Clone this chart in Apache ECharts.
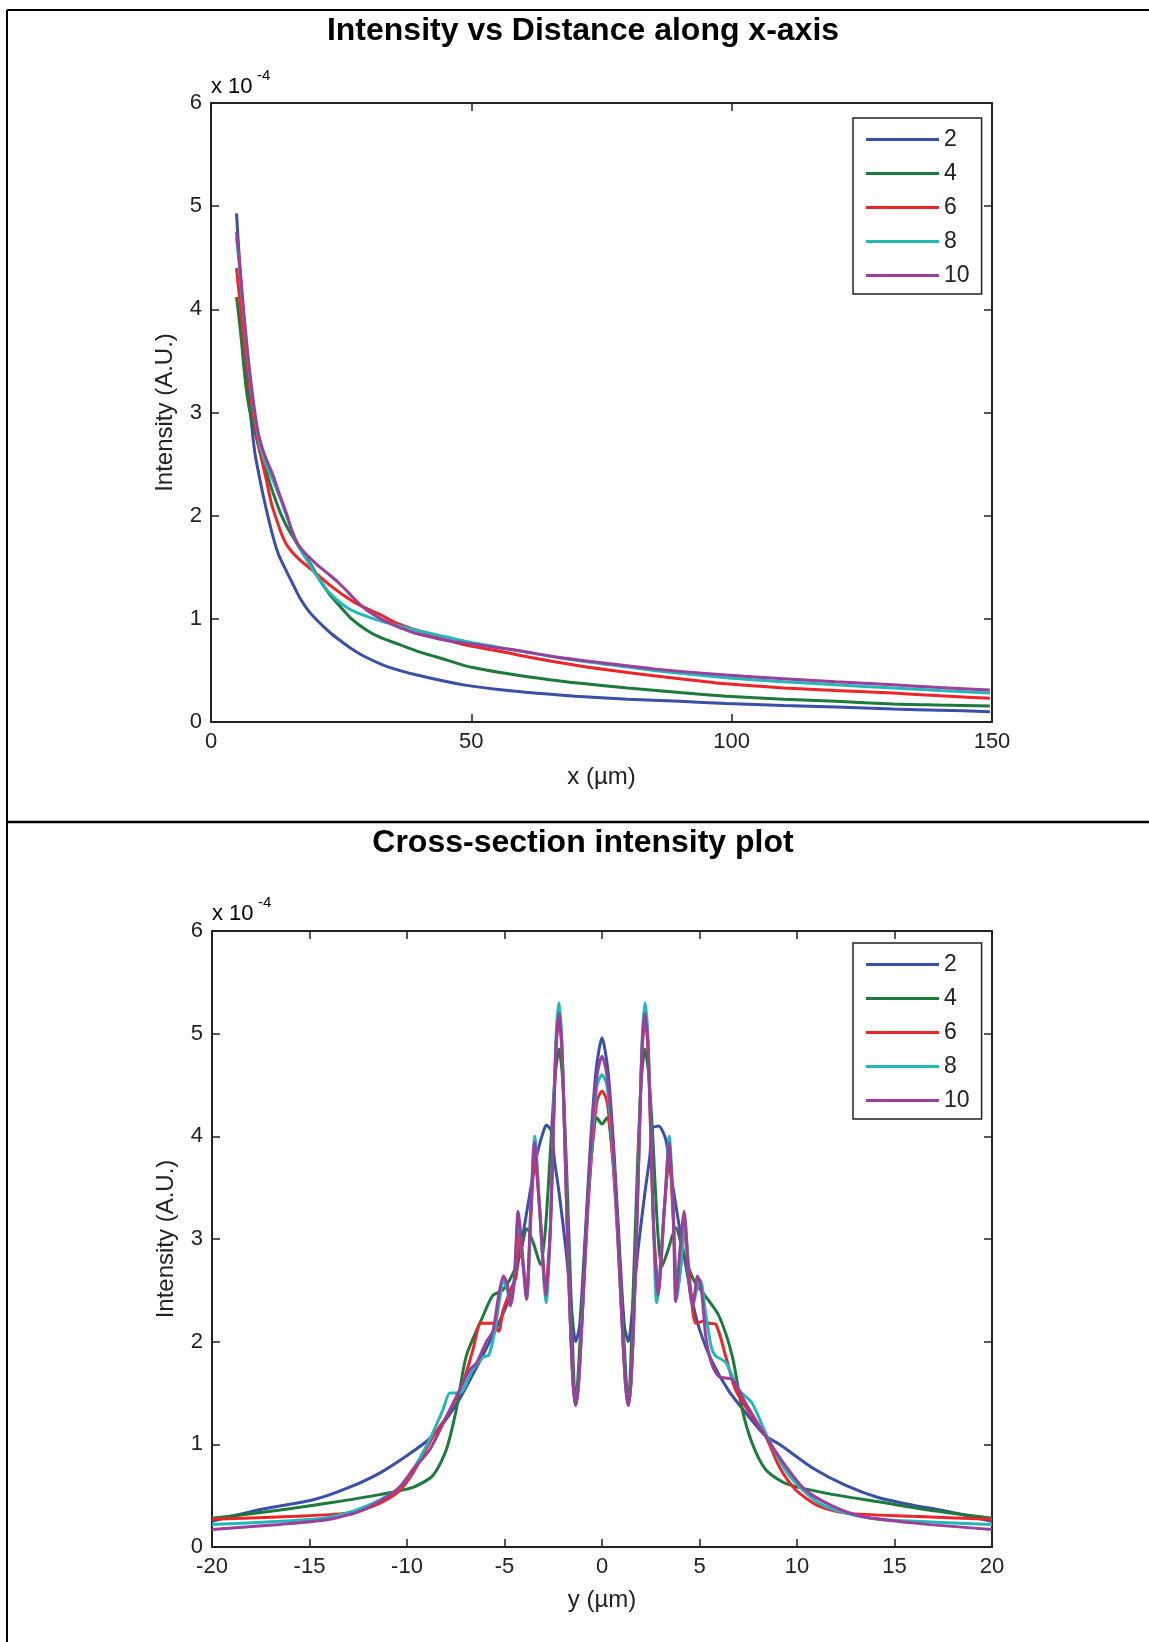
<!DOCTYPE html>
<html>
<head>
<meta charset="utf-8">
<script src="https://cdn.jsdelivr.net/npm/echarts@6/dist/echarts.min.js"></script>
<style>
  html, body { margin: 0; padding: 0; background: #fff; }
  #chart { width: 1149px; height: 1642px; }
</style>
</head>
<body>
<div id="chart"></div>
<script>
// ---------- DATA (intensity in units of 1e-4) ----------
const seriesNames = ['2', '4', '6', '8', '10'];
const seriesColors = ['#3a4fa8', '#1c7a3c', '#ee2428', '#22b8b8', '#9b3e9c'];

const titleTop = 'Intensity vs Distance along x-axis';
const titleBottom = 'Cross-section intensity plot';
const xNameTop = 'x (µm)';
const xNameBottom = 'y (µm)';
const yName = 'Intensity (A.U.)';

const xTicksTop = { min: 0, max: 150, interval: 50 };
const xTicksBottom = { min: -20, max: 20, interval: 5 };
const yTicks = { min: 0, max: 6, interval: 1 };

// Top plot: intensity vs x (µm)
const top2 = [[4.9,4.93],[5.3,4.6],[5.8,4.2],[6.3,3.8],[6.8,3.45],[7.3,3.15],[7.8,2.88],[8.45,2.6],[9.2,2.4],[10,2.2],[11,1.98],[12,1.78],[13,1.62],[14.5,1.46],[15.8,1.33],[17.1,1.2],[19,1.06],[20.9,0.96],[22.8,0.87],[24.8,0.79],[27,0.71],[29.3,0.64],[33.7,0.54],[40,0.45],[48.5,0.36],[58,0.3],[70,0.25],[80,0.22],[90,0.2],[99,0.18],[110,0.16],[120,0.145],[131,0.125],[140,0.115],[149.6,0.1]];
const top4 = [[4.9,4.12],[5.3,3.95],[5.8,3.72],[6.3,3.45],[6.85,3.2],[7.5,3.0],[8.5,2.8],[9.4,2.62],[10.3,2.48],[11.2,2.33],[12.2,2.18],[13.3,2.03],[14.5,1.9],[15.8,1.79],[17.1,1.68],[19,1.54],[21,1.37],[22.9,1.23],[24.8,1.12],[27,1.0],[29.9,0.89],[32.5,0.82],[35.7,0.76],[40,0.68],[45.3,0.6],[50,0.53],[58,0.46],[65,0.41],[71,0.375],[80,0.33],[90,0.285],[99,0.25],[110,0.22],[120,0.2],[131,0.175],[140,0.165],[149.6,0.155]];
const top6 = [[4.9,4.4],[5.3,4.2],[5.8,3.95],[6.3,3.7],[7,3.4],[8,3.02],[9,2.72],[9.7,2.55],[10.7,2.33],[11.6,2.12],[12.6,1.96],[13.5,1.83],[14.5,1.72],[15.7,1.64],[17.1,1.57],[19,1.49],[20.9,1.41],[23,1.32],[26,1.21],[29,1.12],[32.5,1.04],[35.5,0.96],[38.9,0.9],[43,0.83],[48.5,0.75],[55,0.69],[62,0.62],[70,0.55],[80,0.48],[90,0.42],[99,0.37],[110,0.33],[120,0.305],[131,0.28],[140,0.255],[149.6,0.23]];
const top8 = [[4.9,4.7],[5.3,4.5],[5.8,4.22],[6.3,3.92],[7,3.56],[8,3.12],[8.8,2.85],[9.7,2.62],[10.7,2.48],[12,2.33],[13.3,2.17],[14.5,2.0],[15.8,1.82],[17.1,1.68],[18.4,1.57],[20,1.44],[21.6,1.32],[23.8,1.2],[26.1,1.11],[29,1.04],[32.5,0.98],[37,0.92],[42,0.86],[50,0.77],[58,0.7],[67,0.62],[75,0.565],[85,0.5],[99,0.43],[110,0.39],[120,0.36],[131,0.33],[140,0.305],[149.6,0.28]];
const top10 = [[4.9,4.75],[5.3,4.55],[5.8,4.27],[6.3,3.97],[7,3.6],[8,3.16],[9,2.82],[10,2.63],[11,2.5],[12,2.38],[13.2,2.2],[14.5,2.02],[15.5,1.86],[16.5,1.74],[18,1.64],[19.6,1.56],[21.2,1.49],[22.9,1.42],[24.5,1.35],[26.1,1.27],[28,1.17],[30,1.08],[33,0.99],[36,0.92],[40,0.85],[45.3,0.79],[50,0.755],[58,0.7],[67,0.625],[75,0.575],[85,0.515],[99,0.455],[110,0.42],[120,0.39],[131,0.36],[140,0.335],[149.6,0.31]];

// Bottom plot: cross-section intensity vs y (µm)
const bot2 = [[-20,0.25],[-17.4,0.37],[-14.8,0.46],[-13.1,0.57],[-11.4,0.72],[-9.7,0.93],[-8.7,1.08],[-7.5,1.38],[-6.3,1.8],[-5.25,2.2],[-4.6,2.5],[-4.2,2.88],[-3.65,3.5],[-3.3,3.85],[-3.0,4.05],[-2.85,4.11],[-2.6,4.05],[-2.44,3.77],[-2.2,3.45],[-1.85,2.9],[-1.6,2.4],[-1.35,2.0],[-1.15,2.15],[-0.9,2.9],[-0.6,3.9],[-0.3,4.65],[0,4.96],[0.3,4.65],[0.6,3.9],[0.9,2.9],[1.15,2.15],[1.35,2.0],[1.6,2.4],[1.85,2.9],[2.2,3.45],[2.45,3.8],[2.6,4.08],[2.9,4.1],[3.27,3.97],[3.6,3.55],[4.2,2.85],[4.63,2.4],[5.0,2.12],[5.66,1.8],[6.5,1.52],[7.4,1.3],[8.4,1.08],[9.1,1.0],[10.8,0.77],[12.5,0.6],[14.2,0.48],[15.9,0.41],[17.6,0.35],[20,0.25]];
const bot4 = [[-20,0.28],[-16.5,0.36],[-13.95,0.43],[-11.4,0.51],[-9.7,0.58],[-8.66,0.7],[-7.98,0.95],[-7.47,1.34],[-6.96,1.86],[-6.1,2.25],[-5.6,2.45],[-5.1,2.5],[-4.6,2.65],[-4.2,2.85],[-3.85,3.1],[-3.5,2.95],[-3.15,2.75],[-2.9,3.1],[-2.6,4.0],[-2.4,4.6],[-2.2,4.85],[-2.0,4.5],[-1.8,3.6],[-1.6,2.5],[-1.35,1.38],[-1.1,2.1],[-0.85,3.0],[-0.55,3.8],[-0.25,4.18],[0,4.12],[0.25,4.18],[0.55,3.8],[0.85,3.0],[1.1,2.1],[1.35,1.38],[1.6,2.5],[1.8,3.6],[2.0,4.5],[2.2,4.85],[2.4,4.6],[2.6,4.0],[2.85,3.1],[3.07,2.73],[3.4,2.9],[3.78,3.11],[4.2,2.85],[4.7,2.6],[5.32,2.44],[6.0,2.25],[6.68,1.86],[7.19,1.34],[7.7,1.01],[8.39,0.755],[9.41,0.62],[11.6,0.52],[14.2,0.44],[16.75,0.36],[20,0.28]];
const bot6 = [[-20,0.27],[-15.65,0.3],[-13.1,0.33],[-11.7,0.4],[-10.5,0.53],[-9.7,0.72],[-8.66,1.08],[-7.98,1.27],[-7.13,1.6],[-6.62,1.92],[-6.2,2.18],[-5.6,2.18],[-5.3,2.1],[-5.08,2.3],[-4.7,2.5],[-4.4,2.64],[-4.25,3.1],[-4.05,2.75],[-3.85,2.5],[-3.65,3.2],[-3.45,3.8],[-3.2,3.3],[-2.9,2.5],[-2.65,3.1],[-2.5,4.0],[-2.35,4.9],[-2.2,5.15],[-2.05,4.8],[-1.9,3.9],[-1.7,2.6],[-1.5,1.65],[-1.35,1.38],[-1.2,1.6],[-1.0,2.3],[-0.75,3.2],[-0.5,3.9],[-0.25,4.35],[0,4.44],[0.25,4.35],[0.5,3.9],[0.75,3.2],[1.0,2.3],[1.2,1.6],[1.35,1.38],[1.5,1.65],[1.7,2.6],[1.9,3.9],[2.05,4.8],[2.2,5.15],[2.35,4.9],[2.5,4.0],[2.65,3.1],[2.9,2.5],[3.2,3.3],[3.45,3.8],[3.65,3.2],[3.85,2.5],[4.05,2.75],[4.25,3.1],[4.5,2.6],[4.81,2.18],[5.2,2.2],[5.49,2.18],[5.83,2.17],[6.34,1.86],[6.85,1.53],[7.7,1.27],[8.39,1.08],[9.07,0.79],[9.92,0.56],[11.1,0.4],[12.5,0.33],[15.9,0.3],[20,0.27]];
const bot8 = [[-20,0.22],[-14.8,0.27],[-13.1,0.33],[-11.7,0.43],[-10.5,0.56],[-9.69,0.755],[-8.83,1.05],[-8.15,1.34],[-7.8,1.5],[-7.3,1.5],[-6.62,1.73],[-6.1,1.85],[-5.8,1.87],[-5.5,2.1],[-5.3,2.35],[-5.05,2.6],[-4.85,2.5],[-4.7,2.35],[-4.5,2.6],[-4.3,3.2],[-4.05,2.75],[-3.85,2.42],[-3.65,3.3],[-3.45,4.0],[-3.2,3.3],[-2.86,2.38],[-2.65,3.1],[-2.5,4.1],[-2.35,5.0],[-2.2,5.3],[-2.05,4.9],[-1.9,3.9],[-1.7,2.6],[-1.5,1.65],[-1.35,1.38],[-1.2,1.6],[-1.0,2.3],[-0.75,3.25],[-0.5,4.0],[-0.25,4.5],[0,4.6],[0.25,4.5],[0.5,4.0],[0.75,3.25],[1.0,2.3],[1.2,1.6],[1.35,1.38],[1.5,1.65],[1.7,2.6],[1.9,3.9],[2.05,4.9],[2.2,5.3],[2.35,5.0],[2.5,4.1],[2.65,3.1],[2.8,2.38],[3.2,3.3],[3.45,4.0],[3.65,3.3],[3.85,2.42],[4.05,2.75],[4.25,3.2],[4.45,2.6],[4.65,2.35],[4.85,2.5],[5.05,2.6],[5.3,2.3],[5.6,1.95],[5.83,1.86],[6.34,1.8],[7.02,1.53],[7.7,1.4],[8.39,1.11],[9.07,0.85],[9.92,0.625],[11.1,0.43],[12.5,0.33],[14.2,0.27],[20,0.22]];
const bot10 = [[-20,0.17],[-16.5,0.22],[-13.95,0.27],[-12.2,0.365],[-10.5,0.56],[-9.69,0.755],[-8.83,0.95],[-7.98,1.27],[-7.3,1.53],[-6.78,1.73],[-6.44,1.79],[-5.93,2.0],[-5.6,2.1],[-5.3,2.45],[-5.05,2.64],[-4.85,2.55],[-4.7,2.35],[-4.5,2.6],[-4.3,3.27],[-4.1,2.9],[-3.88,2.41],[-3.65,3.3],[-3.46,3.94],[-3.2,3.3],[-2.86,2.45],[-2.65,3.1],[-2.5,4.05],[-2.35,4.9],[-2.2,5.2],[-2.05,4.85],[-1.9,3.9],[-1.7,2.6],[-1.5,1.65],[-1.35,1.38],[-1.2,1.6],[-1.0,2.3],[-0.75,3.3],[-0.5,4.1],[-0.25,4.6],[0,4.78],[0.25,4.6],[0.5,4.1],[0.75,3.3],[1.0,2.3],[1.2,1.6],[1.35,1.38],[1.5,1.65],[1.7,2.6],[1.9,3.9],[2.05,4.85],[2.2,5.2],[2.35,4.9],[2.5,4.05],[2.65,3.1],[2.86,2.45],[3.2,3.3],[3.46,3.94],[3.65,3.3],[3.78,2.39],[4.0,2.9],[4.21,3.27],[4.45,2.6],[4.65,2.35],[4.9,2.64],[5.1,2.5],[5.32,2.05],[5.6,1.8],[6.0,1.66],[6.68,1.63],[7.37,1.4],[8.39,1.08],[9.41,0.79],[10.4,0.56],[11.8,0.4],[13.3,0.3],[15.9,0.235],[20,0.17]];

const topData = [top2, top4, top6, top8, top10];
const botData = [bot2, bot4, bot6, bot8, bot10];

// ---------- CHART ----------
const FONT = 'Liberation Sans, Arial, Helvetica, sans-serif';
const AX = '#222';

function xAxisPair(grid, t, name, nameGap) {
  return [
    {
      type: 'value', gridIndex: grid, position: 'bottom',
      min: t.min, max: t.max, interval: t.interval,
      axisLine: { show: true, onZero: false, lineStyle: { color: AX, width: 2 } },
      axisTick: { show: true, inside: true, length: 8, lineStyle: { color: AX, width: 1.5 } },
      axisLabel: { show: true, margin: 9, fontSize: 22, color: '#222', fontFamily: FONT },
      splitLine: { show: false },
      name: name, nameLocation: 'middle', nameGap: nameGap,
      nameTextStyle: { fontSize: 24, color: '#222', fontFamily: FONT }
    },
    {
      type: 'value', gridIndex: grid, position: 'top',
      min: t.min, max: t.max, interval: t.interval,
      axisLine: { show: true, onZero: false, lineStyle: { color: AX, width: 2 } },
      axisTick: { show: true, inside: true, length: 8, lineStyle: { color: AX, width: 1.5 } },
      axisLabel: { show: false },
      splitLine: { show: false }
    }
  ];
}
function yAxisPair(grid) {
  return [
    {
      type: 'value', gridIndex: grid, position: 'left',
      min: yTicks.min, max: yTicks.max, interval: yTicks.interval,
      axisLine: { show: true, onZero: false, lineStyle: { color: AX, width: 2 } },
      axisTick: { show: true, inside: true, length: 8, lineStyle: { color: AX, width: 1.5 } },
      axisLabel: { show: true, margin: 9, fontSize: 22, color: '#222', fontFamily: FONT },
      splitLine: { show: false },
      name: yName, nameLocation: 'middle', nameGap: 34,
      nameTextStyle: { fontSize: 24, color: '#222', fontFamily: FONT }
    },
    {
      type: 'value', gridIndex: grid, position: 'right',
      min: yTicks.min, max: yTicks.max, interval: yTicks.interval,
      axisLine: { show: true, onZero: false, lineStyle: { color: AX, width: 2 } },
      axisTick: { show: true, inside: true, length: 8, lineStyle: { color: AX, width: 1.5 } },
      axisLabel: { show: false },
      splitLine: { show: false }
    }
  ];
}

const series = [];
seriesNames.forEach((n, i) => {
  series.push({
    name: n, type: 'line', xAxisIndex: 0, yAxisIndex: 0,
    data: topData[i], showSymbol: false, smooth: 0.25,
    lineStyle: { color: seriesColors[i], width: 3 }, itemStyle: { color: seriesColors[i] },
    animation: false
  });
});
seriesNames.forEach((n, i) => {
  series.push({
    name: n, type: 'line', xAxisIndex: 2, yAxisIndex: 2,
    data: botData[i], showSymbol: false, smooth: 0.25,
    lineStyle: { color: seriesColors[i], width: 3 }, itemStyle: { color: seriesColors[i] },
    animation: false
  });
});

function legendAt(top) {
  return {
    data: seriesNames, orient: 'vertical', left: 853, top: top,
    icon: 'rect', itemWidth: 73, itemHeight: 3, itemGap: 11,
    padding: [10, 12, 7, 13],
    borderColor: AX, borderWidth: 1.5, backgroundColor: '#fff',
    textStyle: { fontSize: 23, lineHeight: 22, color: '#222', fontFamily: FONT },
    selectedMode: false
  };
}

function label(x, y, text, size, weight, align) {
  return {
    type: 'text', x: x, y: y, z: 100,
    style: { text: text, fontSize: size, fontWeight: weight || 'normal', fontFamily: FONT,
             fill: '#000', align: align || 'center', verticalAlign: 'middle' }
  };
}
function hline(x1, y1, x2, y2, w) {
  return { type: 'line', z: 100, shape: { x1: x1, y1: y1, x2: x2, y2: y2 }, style: { stroke: '#000', lineWidth: w } };
}

const chart = echarts.init(document.getElementById('chart'), null, { renderer: 'canvas' });
chart.setOption({
  backgroundColor: '#fff',
  animation: false,
  grid: [
    { left: 211, top: 103, width: 781, height: 619 },
    { left: 212, top: 931, width: 780, height: 616 }
  ],
  xAxis: [...xAxisPair(0, xTicksTop, xNameTop, 43), ...xAxisPair(1, xTicksBottom, xNameBottom, 41)],
  yAxis: [...yAxisPair(0), ...yAxisPair(1)],
  legend: [legendAt(118), legendAt(943)],
  series: series,
  graphic: [
    hline(7, 10, 1149, 10, 2),
    hline(7, 10, 7, 1642, 2),
    hline(7, 822, 1149, 822, 2.5),
    label(583, 31, titleTop, 32, 'bold'),
    label(583, 843, titleBottom, 32, 'bold'),
    label(211, 87, 'x 10', 22, 'normal', 'left'),
    label(257, 76, '-4', 15, 'normal', 'left'),
    label(212, 914, 'x 10', 22, 'normal', 'left'),
    label(258, 903, '-4', 15, 'normal', 'left')
  ]
});
</script>
</body>
</html>
